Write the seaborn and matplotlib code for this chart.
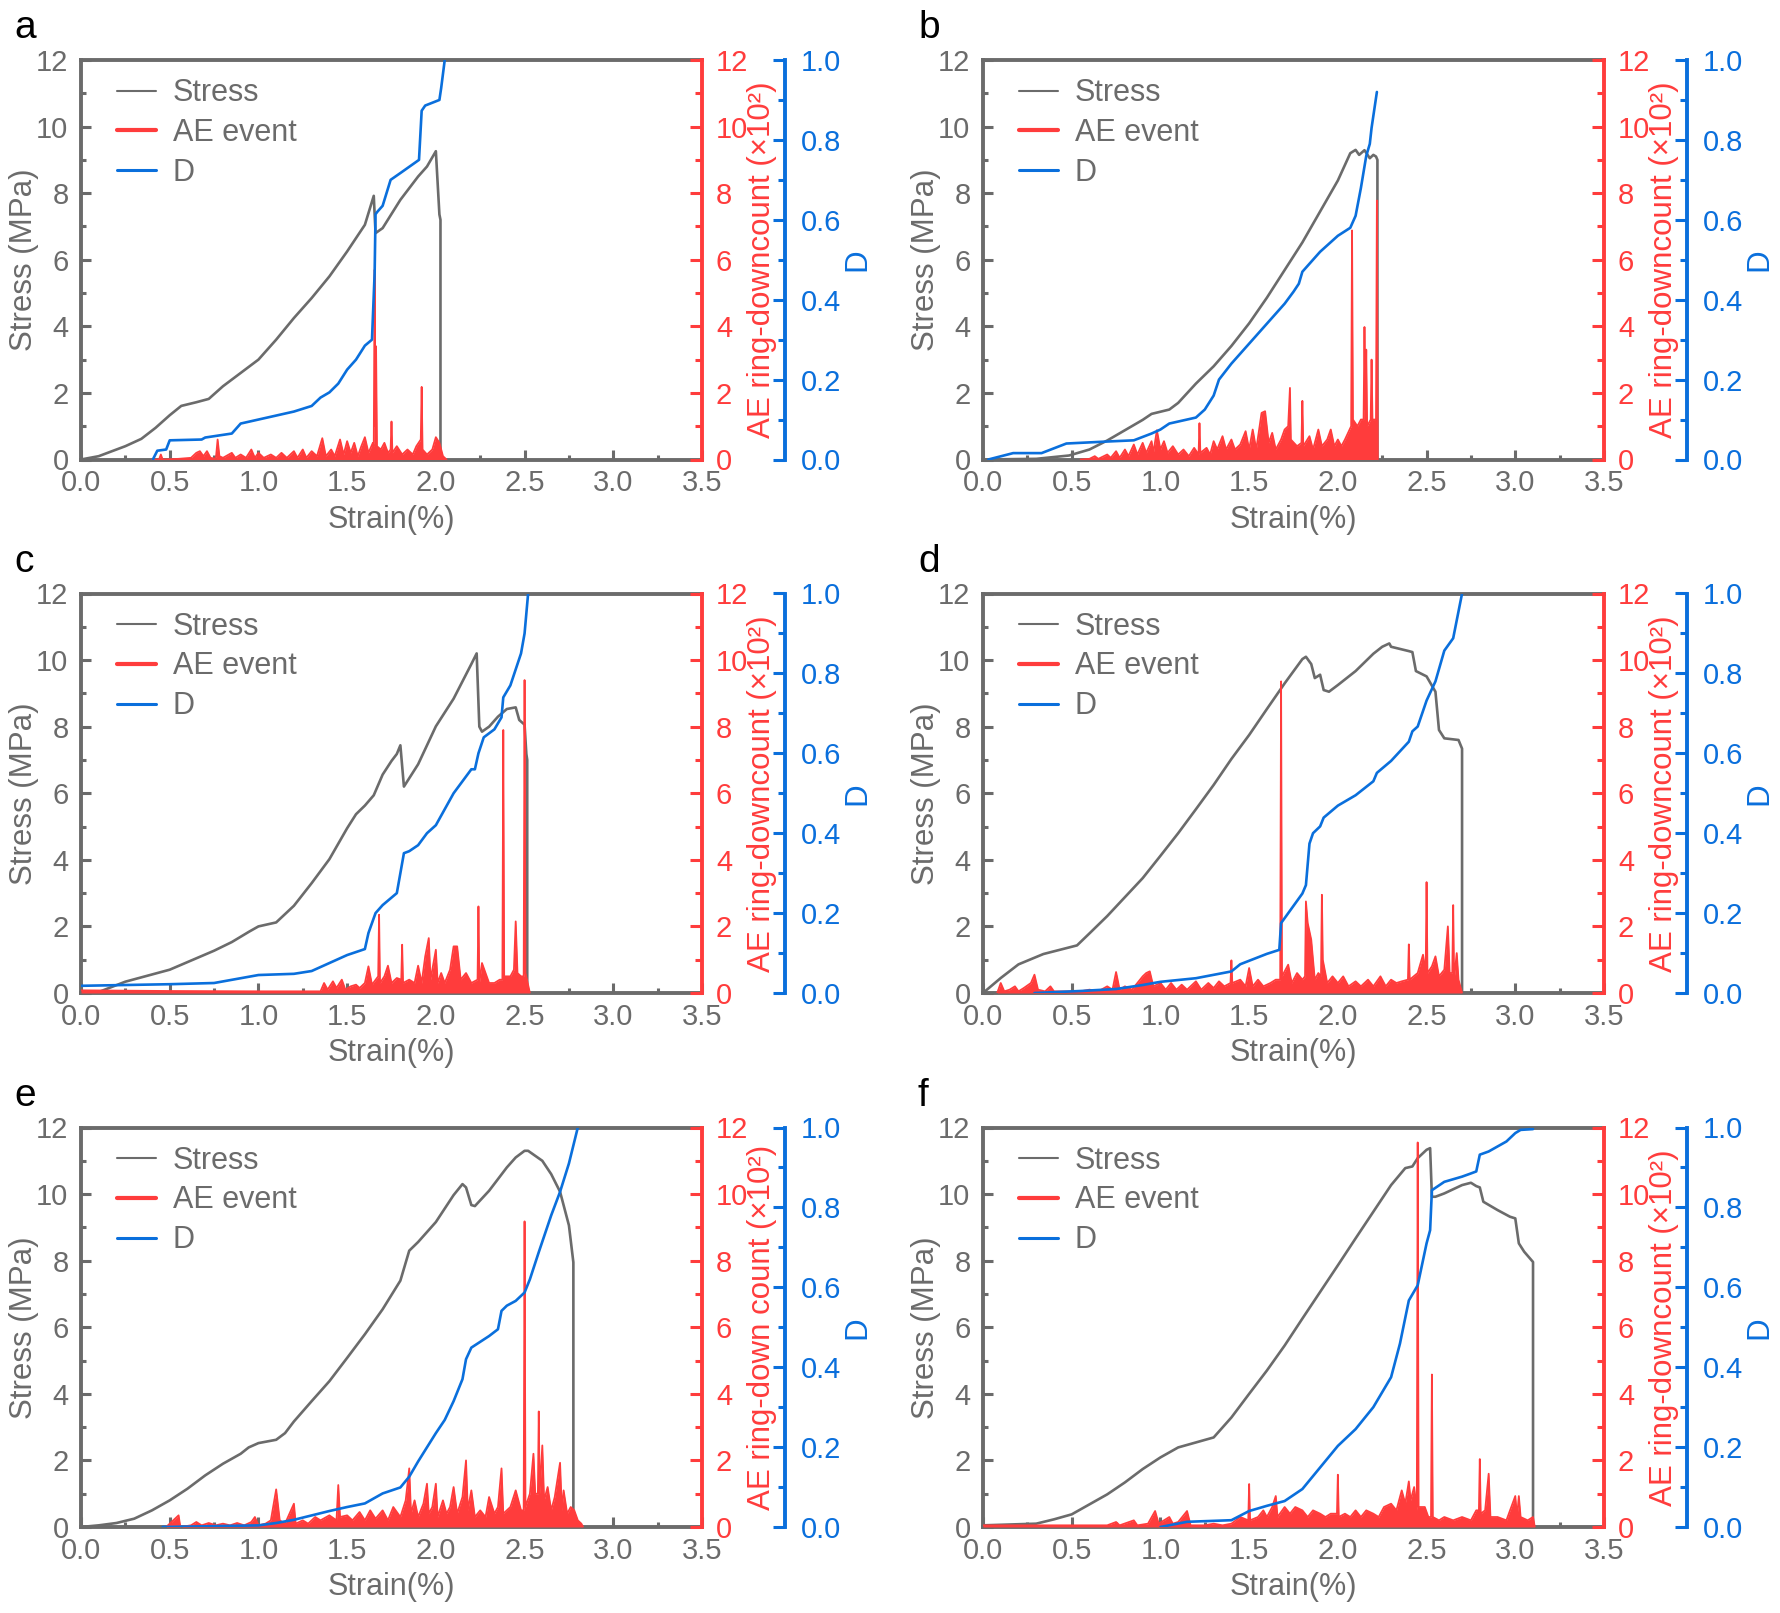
import matplotlib
matplotlib.use("Agg")
import matplotlib.pyplot as plt
from matplotlib.lines import Line2D
from matplotlib.ticker import MultipleLocator
import seaborn as sns

# ---- data (strain in %, stress in MPa, AE in x10^2, D dimensionless) ----
stress_a_x = [0.0, 0.1, 0.18, 0.25, 0.34, 0.42, 0.5, 0.565, 0.65, 0.72, 0.8, 0.9, 1.0, 1.1, 1.2, 1.3, 1.4, 1.5, 1.6, 1.65, 1.66, 1.7, 1.8, 1.9, 1.95, 2.0, 2.02, 2.026, 2.026]
stress_a_y = [0.0, 0.1, 0.26, 0.4, 0.62, 0.95, 1.33, 1.61, 1.72, 1.82, 2.2, 2.6, 3.0, 3.6, 4.25, 4.85, 5.5, 6.25, 7.05, 7.92, 6.8, 6.95, 7.8, 8.5, 8.8, 9.26, 7.36, 7.2, 0.0]
d_a_x = [0.405, 0.43, 0.48, 0.5, 0.68, 0.7, 0.85, 0.9, 1.0, 1.1, 1.2, 1.3, 1.35, 1.4, 1.45, 1.5, 1.55, 1.6, 1.64, 1.655, 1.66, 1.67, 1.7, 1.745, 1.8, 1.905, 1.92, 1.94, 2.02, 2.03, 2.05]
d_a_y = [0.0, 0.022, 0.025, 0.048, 0.05, 0.055, 0.065, 0.09, 0.1, 0.11, 0.12, 0.134, 0.155, 0.168, 0.19, 0.225, 0.25, 0.285, 0.30, 0.467, 0.614, 0.62, 0.635, 0.70, 0.717, 0.75, 0.873, 0.886, 0.90, 0.93, 1.0]
ae_a_x = [0.40, 0.44, 0.45, 0.46, 0.55, 0.62, 0.65, 0.67, 0.69, 0.71, 0.73, 0.76, 0.77, 0.78, 0.80, 0.85, 0.87, 0.90, 0.93, 0.96, 0.98, 1.00, 1.03, 1.07, 1.10, 1.13, 1.16, 1.20, 1.22, 1.25, 1.27, 1.30, 1.33, 1.36, 1.38, 1.41, 1.43, 1.46, 1.48, 1.50, 1.52, 1.54, 1.56, 1.58, 1.60, 1.62, 1.645, 1.65, 1.655, 1.66, 1.663, 1.668, 1.69, 1.71, 1.73, 1.745, 1.75, 1.755, 1.78, 1.81, 1.84, 1.87, 1.89, 1.915, 1.92, 1.925, 1.95, 1.98, 2.00, 2.02, 2.04, 2.06]
ae_a_y = [0.0, 0.0, 0.15, 0.0, 0.02, 0.05, 0.2, 0.25, 0.1, 0.25, 0.05, 0.02, 0.6, 0.1, 0.05, 0.2, 0.05, 0.15, 0.05, 0.3, 0.05, 0.2, 0.05, 0.15, 0.05, 0.2, 0.05, 0.25, 0.05, 0.3, 0.05, 0.25, 0.1, 0.64, 0.1, 0.3, 0.1, 0.6, 0.15, 0.55, 0.2, 0.5, 0.1, 0.4, 0.67, 0.2, 0.5, 0.4, 5.7, 1.0, 3.4, 0.4, 0.3, 0.5, 0.2, 0.3, 1.14, 0.2, 0.4, 0.15, 0.3, 0.15, 0.4, 0.6, 2.18, 0.3, 0.15, 0.3, 0.67, 0.5, 0.1, 0.0]

stress_b_x = [0.0, 0.3, 0.485, 0.6, 0.7, 0.8, 0.9, 0.95, 1.05, 1.1, 1.2, 1.3, 1.4, 1.5, 1.6, 1.7, 1.8, 1.9, 2.0, 2.07, 2.1, 2.12, 2.15, 2.18, 2.2, 2.215, 2.223, 2.223]
stress_b_y = [0.0, 0.02, 0.12, 0.3, 0.57, 0.88, 1.19, 1.37, 1.5, 1.7, 2.28, 2.8, 3.41, 4.09, 4.86, 5.69, 6.52, 7.45, 8.38, 9.2, 9.3, 9.15, 9.29, 9.05, 9.15, 9.1, 9.0, 0.0]
d_b_x = [0.03, 0.17, 0.33, 0.47, 0.7, 0.85, 0.95, 1.0, 1.05, 1.1, 1.2, 1.25, 1.3, 1.33, 1.4, 1.5, 1.6, 1.7, 1.75, 1.78, 1.8, 1.9, 2.0, 2.07, 2.1, 2.13, 2.16, 2.18, 2.19, 2.22]
d_b_y = [0.0, 0.016, 0.016, 0.04, 0.045, 0.048, 0.065, 0.075, 0.09, 0.095, 0.105, 0.125, 0.16, 0.2, 0.24, 0.29, 0.34, 0.39, 0.42, 0.44, 0.47, 0.52, 0.56, 0.58, 0.61, 0.68, 0.76, 0.79, 0.83, 0.92]
ae_b_x = [0.55, 0.60, 0.63, 0.65, 0.70, 0.72, 0.75, 0.77, 0.80, 0.82, 0.85, 0.87, 0.90, 0.92, 0.95, 0.96, 0.98, 1.00, 1.02, 1.04, 1.07, 1.10, 1.13, 1.16, 1.19, 1.215, 1.22, 1.225, 1.26, 1.28, 1.30, 1.32, 1.35, 1.37, 1.40, 1.42, 1.45, 1.48, 1.50, 1.52, 1.54, 1.57, 1.59, 1.61, 1.63, 1.65, 1.68, 1.70, 1.72, 1.73, 1.735, 1.77, 1.795, 1.80, 1.805, 1.84, 1.86, 1.89, 1.91, 1.94, 1.96, 1.98, 2.00, 2.02, 2.04, 2.075, 2.08, 2.085, 2.11, 2.13, 2.145, 2.15, 2.155, 2.16, 2.165, 2.185, 2.19, 2.195, 2.215, 2.22, 2.225]
ae_b_y = [0.0, 0.02, 0.1, 0.02, 0.15, 0.05, 0.25, 0.05, 0.3, 0.1, 0.45, 0.15, 0.5, 0.2, 0.55, 0.2, 0.88, 0.3, 0.55, 0.2, 0.4, 0.15, 0.3, 0.1, 0.35, 0.15, 1.09, 0.2, 0.35, 0.15, 0.55, 0.3, 0.7, 0.3, 0.6, 0.3, 0.45, 0.85, 0.3, 0.9, 0.3, 1.4, 1.45, 0.5, 0.8, 0.3, 0.6, 0.9, 1.0, 2.15, 0.6, 0.4, 0.5, 1.76, 0.4, 0.7, 0.3, 0.9, 0.4, 0.6, 0.9, 0.4, 0.6, 0.4, 0.6, 1.0, 6.88, 1.2, 1.0, 1.2, 1.2, 3.98, 1.5, 3.3, 1.0, 1.2, 3.0, 1.2, 1.2, 7.78, 0.0]

stress_c_x = [0.0, 0.1, 0.25, 0.5, 0.75, 0.85, 0.95, 1.0, 1.1, 1.2, 1.3, 1.4, 1.5, 1.55, 1.6, 1.65, 1.7, 1.75, 1.78, 1.8, 1.82, 1.9, 2.0, 2.1, 2.2, 2.23, 2.245, 2.26, 2.3, 2.35, 2.4, 2.45, 2.47, 2.5, 2.51, 2.515, 2.515]
stress_c_y = [0.0, 0.03, 0.34, 0.7, 1.27, 1.53, 1.85, 2.0, 2.12, 2.62, 3.3, 4.02, 4.95, 5.37, 5.63, 5.94, 6.56, 6.97, 7.18, 7.44, 6.2, 6.87, 8.01, 8.84, 9.88, 10.2, 8.0, 7.85, 8.0, 8.3, 8.53, 8.58, 8.2, 8.06, 7.18, 7.0, 0.0]
d_c_x = [0.0, 0.5, 0.75, 0.9, 1.0, 1.2, 1.3, 1.4, 1.5, 1.6, 1.62, 1.66, 1.7, 1.78, 1.8, 1.82, 1.85, 1.9, 1.95, 2.0, 2.05, 2.1, 2.15, 2.2, 2.22, 2.24, 2.27, 2.33, 2.37, 2.38, 2.42, 2.48, 2.5, 2.52]
d_c_y = [0.018, 0.022, 0.025, 0.037, 0.045, 0.048, 0.055, 0.075, 0.095, 0.11, 0.15, 0.2, 0.22, 0.25, 0.3, 0.35, 0.355, 0.37, 0.4, 0.42, 0.46, 0.5, 0.53, 0.56, 0.56, 0.6, 0.64, 0.66, 0.69, 0.74, 0.77, 0.85, 0.9, 1.0]
ae_c_x = [0.0, 0.5, 1.0, 1.35, 1.37, 1.39, 1.42, 1.44, 1.47, 1.49, 1.52, 1.55, 1.57, 1.60, 1.62, 1.64, 1.675, 1.68, 1.685, 1.71, 1.73, 1.75, 1.78, 1.805, 1.81, 1.815, 1.85, 1.88, 1.90, 1.92, 1.94, 1.96, 1.97, 2.00, 2.01, 2.03, 2.05, 2.08, 2.10, 2.12, 2.14, 2.17, 2.20, 2.235, 2.24, 2.245, 2.26, 2.28, 2.30, 2.33, 2.36, 2.375, 2.38, 2.385, 2.42, 2.44, 2.45, 2.46, 2.48, 2.495, 2.50, 2.505, 2.53]
ae_c_y = [0.08, 0.06, 0.05, 0.05, 0.3, 0.1, 0.35, 0.15, 0.4, 0.1, 0.2, 0.25, 0.15, 0.3, 0.8, 0.25, 0.5, 2.35, 0.3, 0.5, 0.82, 0.3, 0.45, 0.4, 1.45, 0.3, 0.4, 0.3, 0.82, 0.3, 1.1, 1.65, 0.4, 1.3, 0.3, 0.6, 0.3, 0.7, 1.4, 1.4, 0.4, 0.6, 0.3, 0.4, 2.6, 0.3, 0.9, 0.6, 0.3, 0.3, 0.4, 0.4, 7.9, 0.5, 0.5, 0.7, 2.15, 0.6, 0.5, 0.5, 9.4, 0.6, 0.0]

stress_d_x = [0.0, 0.1, 0.2, 0.34, 0.53, 0.6, 0.7, 0.8, 0.9, 1.0, 1.1, 1.2, 1.3, 1.4, 1.5, 1.6, 1.7, 1.8, 1.82, 1.85, 1.87, 1.9, 1.92, 1.95, 2.0, 2.1, 2.2, 2.25, 2.29, 2.3, 2.4, 2.42, 2.44, 2.5, 2.55, 2.57, 2.6, 2.68, 2.7, 2.7]
stress_d_y = [0.0, 0.45, 0.86, 1.17, 1.43, 1.79, 2.31, 2.88, 3.45, 4.12, 4.8, 5.52, 6.25, 7.03, 7.75, 8.53, 9.3, 10.03, 10.1, 9.88, 9.46, 9.56, 9.1, 9.05, 9.25, 9.67, 10.19, 10.4, 10.5, 10.4, 10.27, 10.24, 9.67, 9.51, 9.05, 7.9, 7.65, 7.6, 7.34, 0.0]
d_d_x = [0.29, 0.55, 0.75, 0.9, 1.0, 1.2, 1.4, 1.45, 1.6, 1.67, 1.68, 1.8, 1.82, 1.84, 1.86, 1.9, 1.92, 2.0, 2.1, 2.2, 2.22, 2.3, 2.4, 2.42, 2.45, 2.5, 2.55, 2.6, 2.65, 2.7]
d_d_y = [0.0, 0.005, 0.01, 0.02, 0.028, 0.037, 0.054, 0.072, 0.098, 0.108, 0.175, 0.249, 0.27, 0.374, 0.4, 0.417, 0.439, 0.469, 0.495, 0.53, 0.551, 0.581, 0.629, 0.655, 0.667, 0.732, 0.78, 0.857, 0.888, 1.0]
ae_d_x = [0.08, 0.10, 0.12, 0.15, 0.18, 0.20, 0.23, 0.27, 0.29, 0.31, 0.35, 0.38, 0.40, 0.45, 0.50, 0.55, 0.60, 0.65, 0.70, 0.73, 0.75, 0.77, 0.80, 0.84, 0.87, 0.90, 0.92, 0.94, 0.96, 1.00, 1.03, 1.06, 1.09, 1.12, 1.15, 1.20, 1.23, 1.27, 1.30, 1.33, 1.36, 1.395, 1.40, 1.405, 1.45, 1.48, 1.50, 1.52, 1.55, 1.58, 1.62, 1.65, 1.675, 1.68, 1.685, 1.72, 1.74, 1.77, 1.80, 1.815, 1.82, 1.83, 1.85, 1.87, 1.89, 1.905, 1.91, 1.915, 1.94, 1.97, 2.00, 2.03, 2.06, 2.10, 2.13, 2.17, 2.20, 2.24, 2.27, 2.30, 2.33, 2.36, 2.395, 2.40, 2.405, 2.45, 2.48, 2.495, 2.50, 2.505, 2.53, 2.55, 2.57, 2.60, 2.62, 2.63, 2.645, 2.65, 2.655, 2.67, 2.68, 2.70]
ae_d_y = [0.0, 0.3, 0.05, 0.1, 0.2, 0.05, 0.15, 0.3, 0.55, 0.1, 0.05, 0.2, 0.05, 0.05, 0.05, 0.05, 0.1, 0.05, 0.2, 0.1, 0.63, 0.1, 0.2, 0.1, 0.3, 0.5, 0.6, 0.65, 0.2, 0.3, 0.1, 0.3, 0.1, 0.25, 0.1, 0.35, 0.1, 0.3, 0.15, 0.35, 0.2, 0.3, 0.98, 0.3, 0.4, 0.2, 0.75, 0.2, 0.4, 0.2, 0.3, 0.4, 0.4, 9.36, 0.5, 0.85, 0.3, 0.6, 0.4, 0.5, 2.75, 2.1, 1.6, 0.4, 0.6, 0.5, 2.95, 1.0, 0.3, 0.5, 0.3, 0.5, 0.2, 0.35, 0.2, 0.4, 0.2, 0.5, 0.2, 0.4, 0.3, 0.35, 0.4, 1.46, 0.4, 0.6, 1.15, 0.6, 3.33, 0.6, 0.8, 1.1, 0.5, 0.7, 2.0, 0.6, 0.6, 2.64, 0.4, 1.2, 0.4, 0.0]

stress_e_x = [0.0, 0.1, 0.2, 0.3, 0.4, 0.5, 0.6, 0.7, 0.8, 0.9, 0.945, 1.0, 1.1, 1.15, 1.2, 1.3, 1.4, 1.5, 1.6, 1.7, 1.8, 1.85, 1.9, 2.0, 2.1, 2.15, 2.17, 2.2, 2.22, 2.3, 2.4, 2.45, 2.5, 2.52, 2.6, 2.65, 2.7, 2.75, 2.775, 2.775]
stress_e_y = [0.0, 0.05, 0.12, 0.25, 0.5, 0.8, 1.15, 1.55, 1.9, 2.2, 2.39, 2.52, 2.62, 2.82, 3.17, 3.78, 4.38, 5.08, 5.79, 6.54, 7.4, 8.3, 8.56, 9.16, 9.97, 10.3, 10.2, 9.67, 9.64, 10.1, 10.8, 11.1, 11.3, 11.3, 11.0, 10.6, 10.07, 9.06, 7.95, 0.0]
d_e_x = [0.46, 1.0, 1.1, 1.2, 1.3, 1.4, 1.5, 1.6, 1.7, 1.8, 1.85, 1.9, 2.0, 2.05, 2.1, 2.15, 2.17, 2.2, 2.3, 2.35, 2.37, 2.4, 2.45, 2.5, 2.53, 2.58, 2.65, 2.7, 2.75, 2.8]
d_e_y = [0.0, 0.004, 0.01, 0.018, 0.029, 0.04, 0.05, 0.059, 0.084, 0.099, 0.126, 0.164, 0.235, 0.268, 0.315, 0.37, 0.42, 0.449, 0.478, 0.495, 0.541, 0.554, 0.566, 0.587, 0.62, 0.688, 0.78, 0.839, 0.91, 1.0]
ae_e_x = [0.48, 0.55, 0.56, 0.62, 0.65, 0.68, 0.72, 0.76, 0.80, 0.84, 0.88, 0.92, 0.96, 0.98, 1.00, 1.04, 1.07, 1.10, 1.12, 1.15, 1.20, 1.21, 1.25, 1.28, 1.32, 1.35, 1.40, 1.44, 1.45, 1.46, 1.50, 1.53, 1.57, 1.60, 1.63, 1.66, 1.70, 1.73, 1.76, 1.80, 1.83, 1.85, 1.86, 1.88, 1.90, 1.93, 1.95, 1.96, 1.98, 2.00, 2.01, 2.04, 2.06, 2.08, 2.10, 2.12, 2.15, 2.17, 2.18, 2.20, 2.22, 2.25, 2.28, 2.30, 2.33, 2.35, 2.37, 2.38, 2.42, 2.45, 2.48, 2.495, 2.50, 2.505, 2.53, 2.55, 2.56, 2.575, 2.58, 2.585, 2.60, 2.61, 2.63, 2.65, 2.67, 2.70, 2.71, 2.72, 2.74, 2.76, 2.78, 2.80, 2.82, 2.83]
ae_e_y = [0.0, 0.35, 0.0, 0.05, 0.15, 0.05, 0.12, 0.05, 0.1, 0.05, 0.12, 0.05, 0.15, 0.3, 0.05, 0.1, 0.2, 1.13, 0.2, 0.1, 0.7, 0.1, 0.2, 0.1, 0.3, 0.2, 0.35, 0.2, 1.26, 0.3, 0.35, 0.2, 0.45, 0.2, 0.5, 0.25, 0.5, 0.2, 0.6, 0.3, 0.8, 1.76, 0.4, 0.8, 0.3, 0.7, 1.3, 0.4, 0.6, 1.3, 0.3, 0.8, 0.4, 0.6, 1.2, 0.4, 0.9, 2.0, 0.5, 1.1, 0.3, 0.5, 0.3, 0.9, 0.4, 0.6, 1.76, 0.4, 0.6, 1.1, 0.5, 0.5, 9.18, 0.6, 1.0, 2.2, 1.0, 1.0, 3.47, 1.0, 2.45, 0.8, 1.2, 0.5, 0.9, 1.93, 0.5, 1.1, 0.4, 0.6, 0.5, 0.2, 0.1, 0.0]

stress_f_x = [0.0, 0.3, 0.4, 0.5, 0.6, 0.7, 0.8, 0.9, 1.0, 1.1, 1.2, 1.3, 1.4, 1.5, 1.6, 1.7, 1.8, 1.9, 2.0, 2.1, 2.2, 2.3, 2.38, 2.42, 2.45, 2.5, 2.52, 2.53, 2.55, 2.6, 2.7, 2.75, 2.78, 2.8, 2.82, 2.9, 2.97, 3.0, 3.02, 3.05, 3.1, 3.1]
stress_f_y = [0.05, 0.1, 0.23, 0.38, 0.68, 0.98, 1.34, 1.74, 2.09, 2.39, 2.54, 2.69, 3.29, 4.0, 4.7, 5.45, 6.26, 7.06, 7.86, 8.67, 9.47, 10.27, 10.78, 10.83, 11.08, 11.33, 11.38, 9.92, 9.92, 10.02, 10.27, 10.34, 10.24, 10.2, 9.77, 9.52, 9.32, 9.27, 8.52, 8.27, 7.96, 0.0]
d_f_x = [1.0, 1.15, 1.4, 1.5, 1.6, 1.7, 1.8, 1.9, 2.0, 2.1, 2.2, 2.3, 2.35, 2.4, 2.45, 2.5, 2.52, 2.53, 2.6, 2.7, 2.75, 2.78, 2.8, 2.85, 2.95, 3.0, 3.03, 3.1]
d_f_y = [0.0, 0.013, 0.017, 0.04, 0.053, 0.065, 0.095, 0.149, 0.203, 0.245, 0.3, 0.375, 0.459, 0.567, 0.605, 0.71, 0.743, 0.843, 0.864, 0.877, 0.885, 0.89, 0.932, 0.94, 0.965, 0.986, 0.994, 0.996]
ae_f_x = [0.0, 0.4, 0.7, 0.75, 0.77, 0.85, 0.87, 0.93, 0.97, 0.99, 1.02, 1.05, 1.07, 1.10, 1.15, 1.17, 1.25, 1.30, 1.35, 1.40, 1.45, 1.495, 1.50, 1.505, 1.55, 1.58, 1.60, 1.63, 1.65, 1.66, 1.70, 1.73, 1.76, 1.80, 1.83, 1.86, 1.90, 1.93, 1.96, 1.995, 2.00, 2.005, 2.04, 2.07, 2.10, 2.13, 2.16, 2.20, 2.23, 2.26, 2.30, 2.33, 2.36, 2.38, 2.40, 2.41, 2.43, 2.445, 2.45, 2.455, 2.49, 2.51, 2.525, 2.53, 2.535, 2.57, 2.60, 2.65, 2.70, 2.75, 2.78, 2.795, 2.80, 2.805, 2.83, 2.85, 2.86, 2.90, 2.95, 3.00, 3.01, 3.02, 3.03, 3.07, 3.10, 3.11]
ae_f_y = [0.05, 0.05, 0.05, 0.15, 0.05, 0.2, 0.05, 0.1, 0.48, 0.1, 0.2, 0.3, 0.1, 0.15, 0.48, 0.05, 0.05, 0.1, 0.05, 0.1, 0.3, 0.2, 1.29, 0.2, 0.3, 0.5, 0.3, 0.6, 0.93, 0.3, 0.6, 0.4, 0.6, 0.5, 0.3, 0.5, 0.4, 0.3, 0.4, 0.4, 1.57, 0.3, 0.4, 0.3, 0.5, 0.3, 0.5, 0.4, 0.3, 0.6, 0.7, 0.5, 1.1, 0.7, 1.37, 0.8, 1.2, 0.5, 11.55, 0.6, 0.6, 0.3, 0.3, 4.58, 0.3, 0.2, 0.3, 0.2, 0.3, 0.2, 0.5, 0.5, 2.04, 0.4, 0.5, 1.6, 0.3, 0.3, 0.2, 0.93, 0.3, 0.93, 0.3, 0.2, 0.3, 0.0]

ae_labels = {"a": "AE ring-downcount (×10²)", "b": "AE ring-downcount (×10²)",
             "c": "AE ring-downcount (×10²)", "d": "AE ring-downcount (×10²)",
             "e": "AE ring-down count (×10²)", "f": "AE ring-downcount (×10²)"}

panels = {
    "a": (stress_a_x, stress_a_y, ae_a_x, ae_a_y, d_a_x, d_a_y),
    "b": (stress_b_x, stress_b_y, ae_b_x, ae_b_y, d_b_x, d_b_y),
    "c": (stress_c_x, stress_c_y, ae_c_x, ae_c_y, d_c_x, d_c_y),
    "d": (stress_d_x, stress_d_y, ae_d_x, ae_d_y, d_d_x, d_d_y),
    "e": (stress_e_x, stress_e_y, ae_e_x, ae_e_y, d_e_x, d_e_y),
    "f": (stress_f_x, stress_f_y, ae_f_x, ae_f_y, d_f_x, d_f_y),
}

GRAY = "#6b6b6b"
RED = "#ff3c3c"
BLUE = "#0a6fdc"

sns.set_theme(style="white")
plt.rcParams["font.family"] = ["Liberation Sans", "DejaVu Sans"]

fig = plt.figure(figsize=(17.8, 16.13), dpi=100)

W, H = 1780.0, 1613.0
lefts = [81, 983]
bottoms = [459.5, 993, 1527]
aw, ah = 621, 399.5

for i, key in enumerate("abcdef"):
    col, row = i % 2, i // 2
    rect = [lefts[col] / W, (H - bottoms[row]) / H, aw / W, ah / H]
    sx, sy, ax_, ay_, dx, dy = panels[key]

    ax = fig.add_axes(rect)
    ax2 = ax.twinx()
    ax3 = ax.twinx()

    sns.lineplot(x=sx, y=sy, ax=ax, color=GRAY, lw=1.9, sort=False, estimator=None)
    ax2.fill_between(ax_, 0, ay_, color=RED, lw=0)
    sns.lineplot(x=ax_, y=ay_, ax=ax2, color=RED, lw=1.3, sort=False, estimator=None)
    sns.lineplot(x=dx, y=dy, ax=ax3, color=BLUE, lw=1.9, sort=False, estimator=None)

    ax.set_xlim(0, 3.5)
    ax.set_ylim(0, 12)
    ax2.set_ylim(0, 12)
    ax3.set_ylim(0, 1)

    # spines
    for s in ["left", "top", "bottom"]:
        ax.spines[s].set_color(GRAY)
        ax.spines[s].set_linewidth(2.8)
    ax.spines["right"].set_visible(False)
    for s in ["left", "top", "bottom"]:
        ax2.spines[s].set_visible(False)
        ax3.spines[s].set_visible(False)
    ax2.spines["right"].set_color(RED)
    ax2.spines["right"].set_linewidth(2.8)
    ax3.spines["right"].set_color(BLUE)
    ax3.spines["right"].set_linewidth(2.8)
    ax3.spines["right"].set_position(("axes", 1.134))

    # ticks
    ax.xaxis.set_major_locator(MultipleLocator(0.5))
    ax.xaxis.set_minor_locator(MultipleLocator(0.25))
    ax.yaxis.set_major_locator(MultipleLocator(2))
    ax.yaxis.set_minor_locator(MultipleLocator(1))
    ax2.yaxis.set_major_locator(MultipleLocator(2))
    ax2.yaxis.set_minor_locator(MultipleLocator(1))
    ax3.yaxis.set_major_locator(MultipleLocator(0.2))
    ax3.yaxis.set_minor_locator(MultipleLocator(0.1))
    ax.xaxis.set_major_formatter(plt.FormatStrFormatter("%.1f"))
    ax3.yaxis.set_major_formatter(plt.FormatStrFormatter("%.1f"))

    ax.tick_params(axis="both", which="both", direction="in", color=GRAY,
                   labelcolor=GRAY, labelsize=21, width=2.2, top=False, right=False,
                   left=True, bottom=True)
    ax.tick_params(which="major", length=7)
    ax.tick_params(which="minor", length=3.5)
    ax.tick_params(axis="y", pad=9)
    ax.tick_params(axis="x", pad=7)
    ax2.tick_params(axis="y", which="both", direction="in", color=RED,
                    labelcolor=RED, labelsize=21, width=2.2, pad=10)
    ax2.tick_params(which="major", length=9)
    ax2.tick_params(which="minor", length=5)
    ax3.tick_params(axis="y", which="both", direction="in", color=BLUE,
                    labelcolor=BLUE, labelsize=21, width=2.2, pad=11)
    ax3.tick_params(which="major", length=9)
    ax3.tick_params(which="minor", length=5)

    # labels
    ax.set_xlabel("Strain(%)", fontsize=22, color=GRAY)
    ax.xaxis.set_label_coords(0.5, -0.151)
    ax.xaxis.label.set_va("center")
    ax.set_ylabel("Stress (MPa)", fontsize=22.5, color=GRAY)
    ax.yaxis.set_label_coords(-0.092, 0.5)
    ax.yaxis.label.set_va("center")
    ax2.set_ylabel(ae_labels[key], fontsize=22.5, color=RED)
    ax2.yaxis.set_label_coords(1.097, 0.5)
    ax2.yaxis.label.set_va("center")
    ax3.set_ylabel("D", fontsize=22.5, color=BLUE)
    ax3.yaxis.set_label_coords(1.251, 0.5)
    ax3.yaxis.label.set_va("center")

    handles = [Line2D([], [], color=GRAY, lw=1.5),
               Line2D([], [], color=RED, lw=3),
               Line2D([], [], color=BLUE, lw=2.2)]
    ax3.legend(handles, ["Stress", "AE event", "D"], loc="upper left",
               bbox_to_anchor=(0.038, 0.985), frameon=False, fontsize=22,
               labelcolor=GRAY, handlelength=1.28, handletextpad=0.55,
               labelspacing=0.32, borderaxespad=0)

    fig.text((14 + col * 904) / W, 1 - (37.5 + row * 534) / H, key,
             fontsize=28, color="black", ha="left", va="baseline")

fig.savefig("out.png", dpi=100)
